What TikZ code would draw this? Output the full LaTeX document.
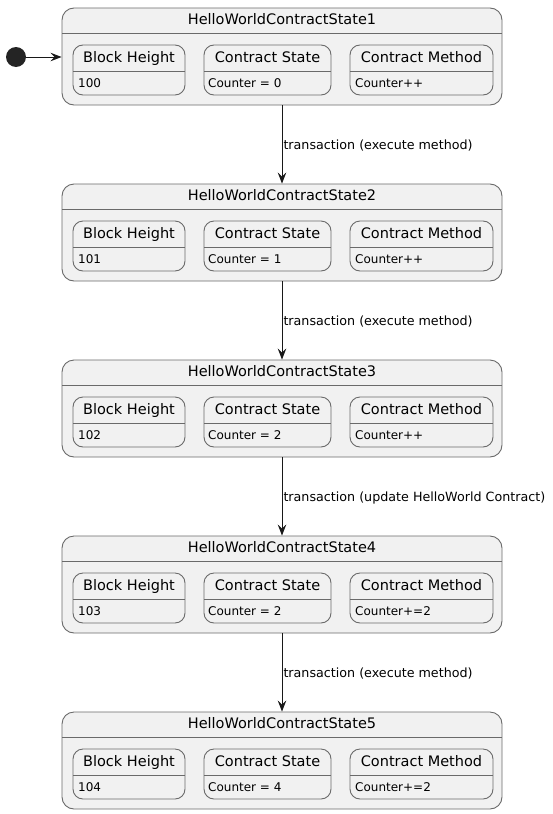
\documentclass[tikz,border=0pt]{standalone}
\usepackage{fontspec}
\setmainfont{DejaVu Sans}
\usetikzlibrary{arrows.meta}
\definecolor{boxfill}{HTML}{F1F1F1}
\definecolor{boxline}{HTML}{6A6A6A}
\definecolor{arrowc}{HTML}{181818}
\tikzset{
  outerbox/.style={draw=boxline, fill=boxfill, rounded corners=12pt, line width=0.9pt, minimum width=440pt, minimum height=97pt, inner sep=0pt},
  innerbox/.style={draw=boxline, fill=boxfill, rounded corners=10pt, line width=0.9pt, minimum height=50pt, inner sep=0pt},
  sepline/.style={draw=boxline, line width=0.9pt},
  titletext/.style={font=\fontsize{14.5}{16}\selectfont, inner sep=0pt, anchor=base, text=black},
  bodytext/.style={font=\fontsize{12}{14}\selectfont, inner sep=0pt, anchor=base west, text=black},
  labeltext/.style={font=\fontsize{12.7}{15}\selectfont, inner sep=0pt, anchor=west, text=black},
  trans/.style={draw=arrowc, line width=1pt, -{Stealth[length=11pt, width=8.5pt, inset=4pt]}},
}
\begin{document}
\begin{tikzpicture}[x=1pt, y=-1pt]
\useasboundingbox (0,0) rectangle (552,814);
\foreach \i/\h/\c/\m in {1/100/Counter = 0/Counter++, 2/101/Counter = 1/Counter++, 3/102/Counter = 2/Counter++, 4/103/Counter = 2/Counter+=2, 5/104/Counter = 4/Counter+=2} {
  \pgfmathsetmacro{\yo}{8+176*(\i-1)}
  \node[outerbox] (s\i) at (282,\yo+48.5) {};
  \draw[sepline] (62,\yo+25) -- (502,\yo+25);
  \node[titletext] (t\i) at (282,\yo+16.5) {HelloWorldContractState\i};
  % Block height
  \node[innerbox, minimum width=112pt] (bh\i) at (129,\yo+62) {};
  \draw[sepline] (73,\yo+63) -- (185,\yo+63);
  \node[titletext] (bht\i) at (129,\yo+54.5) {Block Height};
  \node[bodytext] (bhb\i) at (78,\yo+79.5) {\h};
  % Contract state
  \node[innerbox, minimum width=127pt] (cs\i) at (267.5,\yo+62) {};
  \draw[sepline] (204,\yo+63) -- (331,\yo+63);
  \node[titletext] (cst\i) at (267.5,\yo+54.5) {Contract State};
  \node[bodytext] (csb\i) at (208,\yo+79.5) {\c};
  % Contract method
  \node[innerbox, minimum width=143pt] (cm\i) at (421.5,\yo+62) {};
  \draw[sepline] (350,\yo+63) -- (493,\yo+63);
  \node[titletext] (cmt\i) at (421.5,\yo+54.5) {Contract Method};
  \node[bodytext] (cmb\i) at (355,\yo+79.5) {\m};
}
\node[circle, fill=arrowc!95!white, minimum size=20pt, inner sep=0pt] (init) at (16,57) {};
\draw[trans] (init) -- (s1.west |- init);
\draw[trans] (s1.south) -- (s2.north) node[labeltext, pos=0.5, xshift=1pt, yshift=-1pt] (l1) {transaction (execute method)};
\draw[trans] (s2.south) -- (s3.north) node[labeltext, pos=0.5, xshift=1pt, yshift=-1pt] (l2) {transaction (execute method)};
\draw[trans] (s3.south) -- (s4.north) node[labeltext, pos=0.5, xshift=1pt, yshift=-1pt] (l3) {transaction (update HelloWorld Contract)};
\draw[trans] (s4.south) -- (s5.north) node[labeltext, pos=0.5, xshift=1pt, yshift=-1pt] (l4) {transaction (execute method)};
\end{tikzpicture}
\end{document}
